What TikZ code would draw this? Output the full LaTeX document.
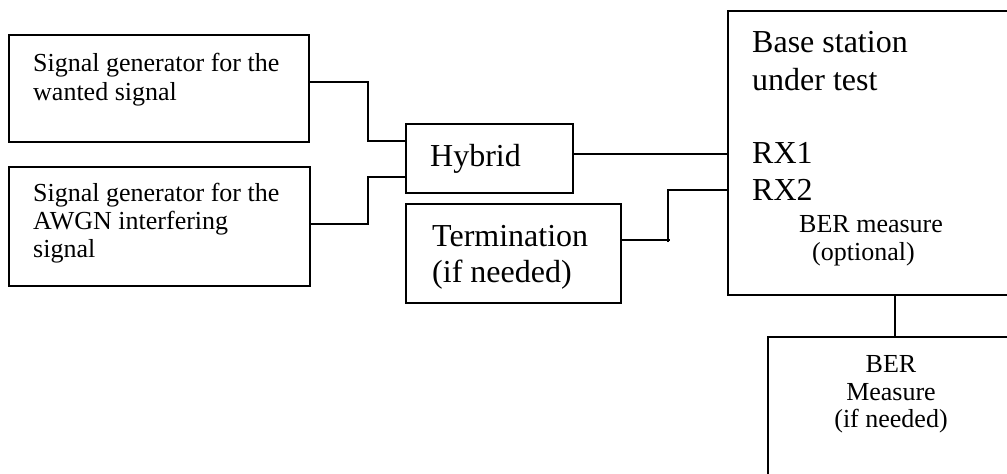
\documentclass[tikz,border=0pt]{standalone}
\usepackage{fontspec}
\setmainfont{Liberation Serif}
\begin{document}
\begin{tikzpicture}[x=1pt,y=-1pt,
  box/.style={draw=black,line width=1.6pt,rectangle,inner sep=0pt,anchor=north west},
  conn/.style={draw=black,line width=1.6pt},
  small/.style={inner sep=0pt,font=\fontsize{26}{29}\selectfont},
  big/.style={inner sep=0pt,font=\fontsize{32}{37}\selectfont}]
\useasboundingbox (0,0) rectangle (1007,474);
\clip (0,0) rectangle (1007,474);
% boxes
\node[box,minimum width=300pt,minimum height=107pt] (g1) at (8,34) {};
\node[box,minimum width=301pt,minimum height=119pt] (g2) at (8,166) {};
\node[box,minimum width=167pt,minimum height=69pt] (hyb) at (405,123) {};
\node[box,minimum width=215pt,minimum height=99pt] (term) at (405,203) {};
\node[box,minimum width=310pt,minimum height=284pt] (bs) at (727,10) {};
\node[box,minimum width=270pt,minimum height=170pt] (ber) at (767,336) {};
% texts
\node[small,anchor=base west] (t1a) at (33,71) {Signal generator for the};
\node[small,anchor=base west] (t1b) at (33,100) {wanted signal};
\node[small,anchor=base west] (t2a) at (33,201) {Signal generator for the};
\node[small,anchor=base west] (t2b) at (33,229) {AWGN interfering};
\node[small,anchor=base west] (t2c) at (33,257) {signal};
\node[big,anchor=base west] (th) at (430,166) {Hybrid};
\node[big,anchor=base west] (tt1) at (432,246) {Termination};
\node[big,anchor=base west] (tt2) at (432,282) {(if needed)};
\node[big,anchor=base west] (tb1) at (752,52) {Base station};
\node[big,anchor=base west] (tb2) at (752,90) {under test};
\node[big,anchor=base west] (tb3) at (752,163) {RX1};
\node[big,anchor=base west] (tb4) at (752,200) {RX2};
\node[small,anchor=base west] (tb5) at (799,232) {BER measure};
\node[small,anchor=base west] (tb6) at (812,260) {(optional)};
\node[small,anchor=base] (tr1) at (891,372) {BER};
\node[small,anchor=base] (tr2) at (891,400) {Measure};
\node[small,anchor=base] (tr3) at (891,427) {(if needed)};
% connectors
\draw[conn] (g1.east |- 0,82) -- (368,82) -- (368,141) -- (hyb.west |- 0,141);
\draw[conn] (g2.east |- 0,224) -- (368,224) -- (368,177) -- (hyb.west |- 0,177);
\draw[conn] (hyb.east |- 0,154) -- (bs.west |- 0,154);
\draw[conn] (term.east |- 0,240) -- (670,240);
\draw[conn] (668,242) -- (668,190) -- (bs.west |- 0,190);
\draw[conn] (bs.south -| 895,0) -- (ber.north -| 895,0);
\end{tikzpicture}
\end{document}
